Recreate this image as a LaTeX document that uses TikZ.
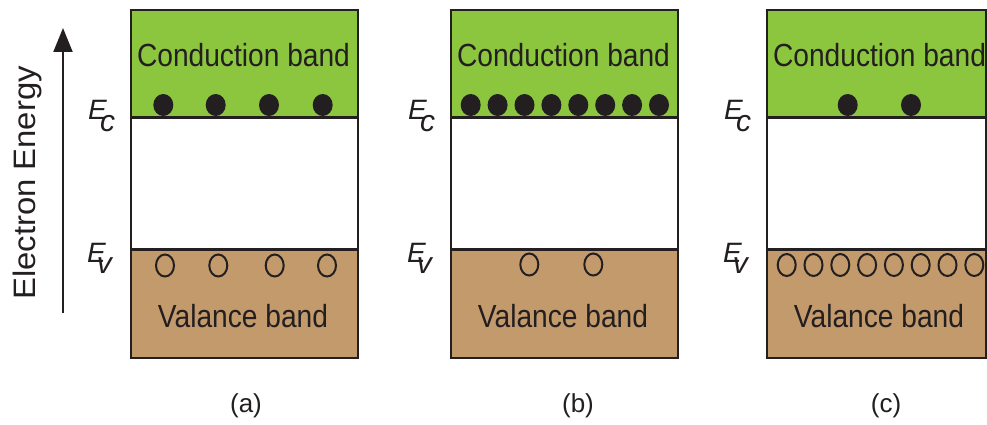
\documentclass[tikz,border=0pt]{standalone}
\usepackage{fontspec}
\setmainfont{Liberation Sans}
\newfontfamily\condfont[FakeStretch=0.88]{Liberation Sans}
\newfontfamily\widefont[FakeStretch=1.06]{Liberation Sans}
\usetikzlibrary{arrows.meta,shapes.geometric}
\definecolor{cband}{HTML}{8CC63F}
\definecolor{vband}{HTML}{C39A6B}
\definecolor{ink}{HTML}{231F20}
\tikzset{
  bandline/.style={draw=ink, line width=2.5pt},
  electron/.style={shape=ellipse, fill=ink, draw=none, minimum width=20pt, minimum height=22pt, inner sep=0pt},
  hole/.style={shape=ellipse, draw=ink, line width=2pt, fill=none, minimum width=18pt, minimum height=22pt, inner sep=0pt},
  bandtext/.style={text=ink, inner sep=0pt, anchor=base, font=\condfont\fontsize{32}{36}\selectfont},
  capt/.style={text=ink, inner sep=0pt, anchor=base, font=\fontsize{26}{30}\selectfont},
  elabel/.style={text=ink, inner sep=0pt, anchor=base west, font=\itshape\fontsize{28}{30}\selectfont},
}
\newcommand\esubc{E\kern-6.7pt\raisebox{-11.5pt}{\fontsize{30}{32}\selectfont c}}
\newcommand\esubv{E\kern-9pt\raisebox{-11pt}{\fontsize{30}{32}\selectfont v}}
\begin{document}
\begin{tikzpicture}[x=1pt,y=-1pt]
\useasboundingbox (0,0) rectangle (987,425);
% panels
\foreach \L/\R/\n in {131/358/a, 451/678/b, 767/986/c}{
  \fill[cband] (\L,10) rectangle (\R,117.5);
  \fill[white] (\L,117.5) rectangle (\R,249.5);
  \fill[vband] (\L,249.5) rectangle (\R,358);
  \draw[bandline] (\L,117.5) -- (\R,117.5);
  \draw[bandline] (\L,249.5) -- (\R,249.5);
  \draw[bandline] (\L,10) rectangle (\R,358);
  \node[bandtext] (cb\n) at (\L+112.5,67) {Conduction band};
  \node[bandtext] (vb\n) at (\L+112,327) {Valance band};
  \node[elabel] (Ec\n) at (\L-43,120) {\esubc};
  \node[elabel] (Ev\n) at (\L-44,262) {\esubv};
}
% panel captions
\node[capt] (capa) at (246,412) {(a)};
\node[capt] (capb) at (578,412) {(b)};
\node[capt] (capc) at (886,412) {(c)};
% electrons and holes, panel a
\foreach \x [count=\i] in {163.3,215.7,269,322.7}{
  \node[electron] (ea\i) at (\x,105) {};
}
\foreach \x [count=\i] in {165,218.3,274.7,327}{
  \node[hole] (ha\i) at (\x,265.5) {};
}
% panel b
\foreach \i in {0,...,7}{
  \node[electron] (eb\i) at (470.7+26.9*\i,105) {};
}
\node[hole] (hb1) at (529.3,264.5) {};
\node[hole] (hb2) at (593.3,264.5) {};
% panel c
\node[electron] (ecc1) at (847.7,105) {};
\node[electron] (ecc2) at (911,105) {};
\foreach \i in {0,...,7}{
  \node[hole] (hc\i) at (786.7+26.8*\i,265) {};
}
% energy axis
\coordinate (axb) at (63,313);
\coordinate (axt) at (63,28);
\draw[draw=ink, line width=2pt, -{Triangle[length=24pt,width=19pt]}] (axb) -- (axt);
\node[text=ink, inner sep=0pt, anchor=base, rotate=90, font=\widefont\fontsize{31}{34}\selectfont] (axlab) at (35,183) {Electron Energy};
\end{tikzpicture}
\end{document}
